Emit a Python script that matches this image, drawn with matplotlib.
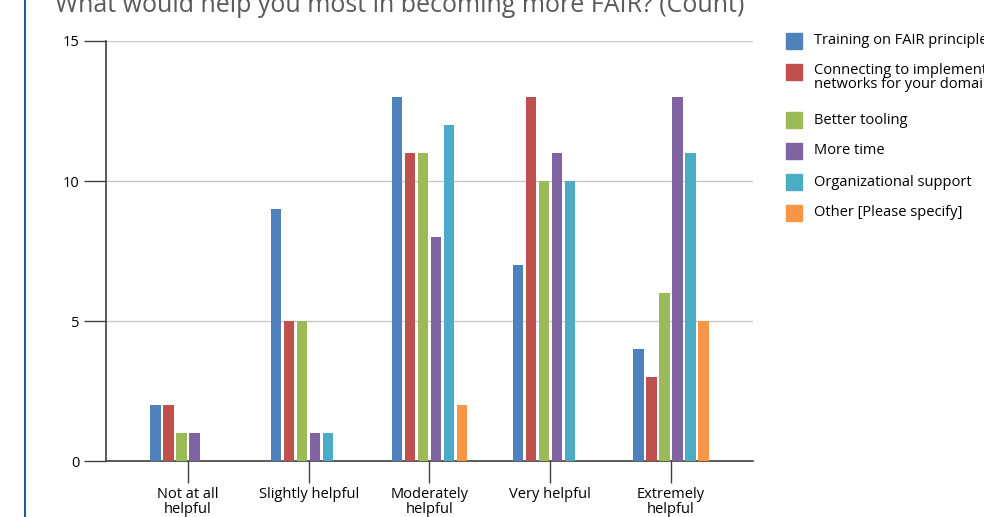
import matplotlib.pyplot as plt
from matplotlib.lines import Line2D
import numpy as np

plt.rcParams['font.family'] = ['Open Sans', 'DejaVu Sans']

categories = ['Not at all\nhelpful', 'Slightly helpful', 'Moderately\nhelpful',
              'Very helpful', 'Extremely\nhelpful']
series_names = ['Training on FAIR principles',
                'Connecting to implementation\nnetworks for your domain',
                'Better tooling', 'More time', 'Organizational support',
                'Other [Please specify]']
training = [2, 9, 13, 7, 4]
connecting = [2, 5, 11, 13, 3]
tooling = [1, 5, 11, 10, 6]
more_time = [1, 1, 8, 11, 13]
org_support = [0, 1, 12, 10, 11]
other = [0, 0, 2, 0, 5]
values = [training, connecting, tooling, more_time, org_support, other]
colors = ['#4F81BD', '#C0504D', '#9BBB59', '#8064A2', '#4BACC6', '#F79646']

fig = plt.figure(figsize=(9.84, 5.17), dpi=100)
ax = fig.add_axes([0.1077, 0.1083, 0.6575, 0.8124])

x = np.arange(len(categories))
slot = 0.1077
for i, (vals, col) in enumerate(zip(values, colors)):
    ax.bar(x + (i - 2.5) * slot, vals, width=0.085, color=col, zorder=3)

ax.set_xlim(-0.68, 4.68)
ax.set_ylim(0, 15)
ax.set_yticks([0, 5, 10, 15])
ax.set_xticks(x)
ax.set_xticklabels(categories, fontsize=10.5, linespacing=0.95)
ax.tick_params(axis='y', length=16, width=1, color='#404040', labelsize=10.5, pad=3)
ax.tick_params(axis='x', length=16, width=1, color='#404040', pad=3)
ax.yaxis.grid(True, color='#C8C8C8', linewidth=1, zorder=0)
for s in ['top', 'right']:
    ax.spines[s].set_visible(False)
for s in ['left', 'bottom']:
    ax.spines[s].set_color('#404040')
    ax.spines[s].set_linewidth(1.2)

fig.text(0.406, 0.99, 'What would help you most in becoming more FAIR? (Count)',
         ha='center', va='center', fontsize=18, color='#595959')

# legend drawn by hand so it can run off the right edge like the original
leg_y = [41, 72, 120, 151, 182, 213]
for name, col, yy in zip(series_names, colors, leg_y):
    fy = 1 - yy / 517
    fig.patches.append(plt.Rectangle((786 / 984, fy - 8 / 517), 16 / 984, 16 / 517,
                                     transform=fig.transFigure, color=col))
    if '\n' in name:
        fig.text(814 / 984, fy + 9 / 517, name, va='top', ha='left',
                 fontsize=10.5, linespacing=0.92)
    else:
        fig.text(814 / 984, fy, name, va='center', ha='left', fontsize=10.5)

fig.add_artist(Line2D([25 / 984, 25 / 984], [0, 1], color='#2F5597', linewidth=1.5,
                      transform=fig.transFigure))

fig.savefig('out.png', dpi=100)
